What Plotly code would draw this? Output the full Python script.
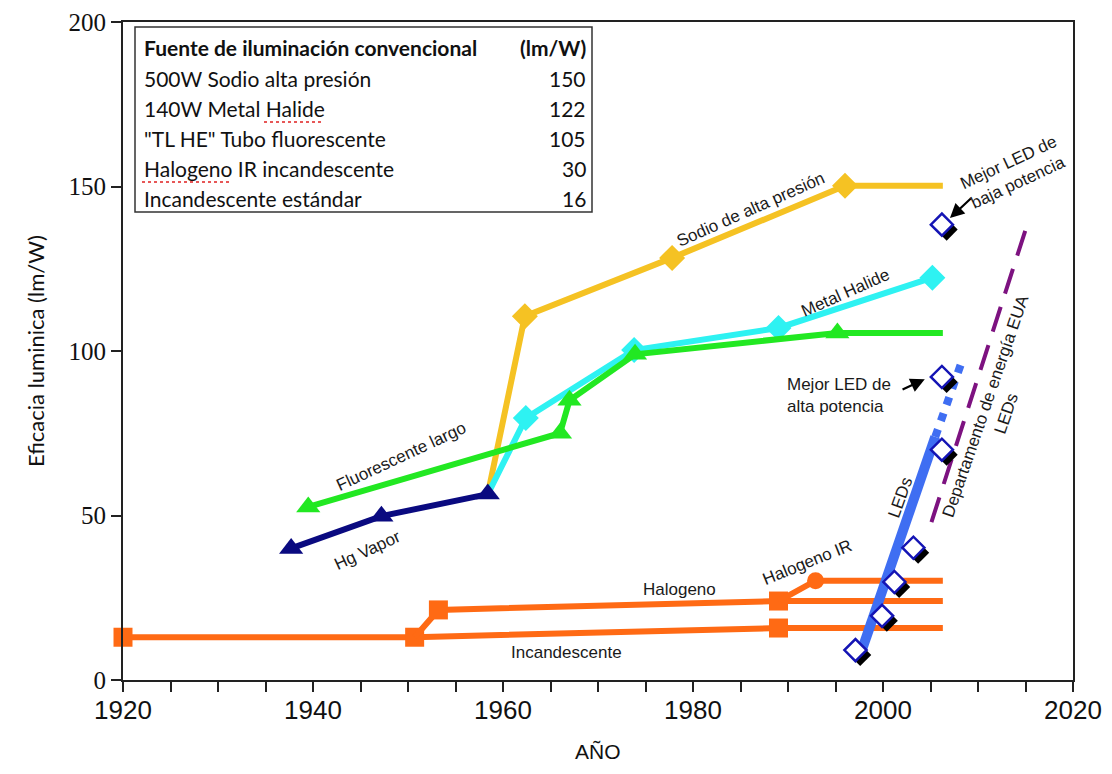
import plotly.graph_objects as go

# ---------------- data ----------------
hg_x = [1937.7, 1947.2, 1958.4]
hg_y = [40.0, 49.8, 56.5]

sodio_x = [1958.4, 1962.3, 1977.8, 1996.0, 2006.3]
sodio_y = [56.5, 110.6, 128.3, 150.2, 150.2]
sodio_mk = [0, 1, 1, 1, 0]

mh_x = [1958.4, 1962.4, 1973.8, 1989.0, 2005.2]
mh_y = [56.5, 79.6, 100.3, 107.0, 122.3]
mh_mk = [0, 1, 1, 1, 1]

fl_x = [1939.5, 1966.0, 1967.0, 1973.9, 1995.2, 2006.3]
fl_y = [52.6, 75.0, 85.0, 99.0, 105.5, 105.5]
fl_mk = [1, 1, 1, 1, 1, 0]

inc_x = [1920.0, 1950.7, 1989.0, 2006.3]
inc_y = [13.0, 13.0, 15.8, 15.8]
inc_mk = [1, 1, 1, 0]

hal_x = [1950.7, 1953.2, 1989.0, 2006.3]
hal_y = [13.0, 21.3, 24.0, 24.0]
hal_mk = [0, 1, 1, 0]

halir_x = [1989.0, 1992.9, 2006.3]
halir_y = [24.0, 30.2, 30.2]
halir_mk = [0, 1, 0]

led_x = [1997.1, 1999.9, 2001.2, 2003.2, 2006.2, 2006.2, 2006.2]
led_y = [9.1, 19.5, 29.8, 40.2, 70.0, 92.1, 138.4]

led_trend_x = [1997.4, 2005.5]
led_trend_y = [6.0, 73.9]
led_proj_x = [2005.5, 2008.2]
led_proj_y = [73.9, 96.0]

doe_x = [2005.1, 2015.0]
doe_y = [48.0, 136.8]

table_labels = ["500W Sodio alta presión", "140W Metal Halide", "\"TL HE\" Tubo fluorescente",
                "Halogeno IR incandescente", "Incandescente estándar"]
table_values = [150, 122, 105, 30, 16]
table_header = ["Fuente de iluminación convencional", "(lm/W)"]

x_ticks = [1920, 1940, 1960, 1980, 2000, 2020]
y_ticks = [0, 50, 100, 150, 200]

# ---------------- colours ----------------
C_ORANGE = "#FF6A14"
C_YELLOW = "#F5C223"
C_CYAN = "#2EF2F2"
C_GREEN = "#22E822"
C_NAVY = "#0A0A80"
C_BLUE = "#3F6EF2"
C_PURPLE = "#7D1280"

fig = go.Figure()

def series(x, y, color, symbol, size, mk, width=6):
    sizes = [size if m else 0 for m in mk]
    fig.add_trace(go.Scatter(
        x=x, y=y, mode="lines+markers",
        line=dict(color=color, width=width),
        marker=dict(symbol=symbol, size=sizes, color=color, opacity=1, line=dict(width=0)),
        cliponaxis=False, showlegend=False, hoverinfo="skip"))

# orange family
series(inc_x, inc_y, C_ORANGE, "square", 19, inc_mk)
series(hal_x, hal_y, C_ORANGE, "square", 19, hal_mk)
series(halir_x, halir_y, C_ORANGE, "circle", 17, halir_mk)

# high intensity lamps
series(sodio_x, sodio_y, C_YELLOW, "diamond", 20, sodio_mk)
series(mh_x, mh_y, C_CYAN, "diamond", 20, mh_mk)
series(fl_x, fl_y, C_GREEN, "triangle-up", 21, fl_mk)
series(hg_x, hg_y, C_NAVY, "triangle-up", 21, [1, 1, 1])

# DOE target
fig.add_trace(go.Scatter(x=doe_x, y=doe_y, mode="lines",
                         line=dict(color=C_PURPLE, width=4, dash="26px,14px"),
                         showlegend=False, hoverinfo="skip"))
# LED trend
fig.add_trace(go.Scatter(x=led_trend_x, y=led_trend_y, mode="lines",
                         line=dict(color=C_BLUE, width=10),
                         showlegend=False, hoverinfo="skip"))
fig.add_trace(go.Scatter(x=led_proj_x, y=led_proj_y, mode="lines",
                         line=dict(color=C_BLUE, width=8, dash="8px,9px"),
                         showlegend=False, hoverinfo="skip"))
# LED points: shadow + open diamond
fig.add_trace(go.Scatter(x=[v + 0.5 for v in led_x], y=[v - 1.5 for v in led_y], mode="markers",
                         marker=dict(symbol="diamond", size=17, color="#000000", opacity=1),
                         showlegend=False, hoverinfo="skip"))
fig.add_trace(go.Scatter(x=led_x, y=led_y, mode="markers",
                         marker=dict(symbol="diamond", size=17, color="white", opacity=1,
                                     line=dict(color="#1414B4", width=2.5)),
                         showlegend=False, hoverinfo="skip"))

# ---------------- annotations ----------------
LF = dict(family="Liberation Sans, Arial, sans-serif", size=17, color="#1a1a1a")
ann = []
def lab(text, x, y, angle=0, xanchor="center", align="center"):
    ann.append(dict(text=text, x=x, y=y, xref="x", yref="y", showarrow=False,
                    textangle=angle, font=LF, xanchor=xanchor, yanchor="middle", align=align))

lab("Sodio de alta presión", 1986.1, 142.9, -24)
lab("Metal Halide", 1996.1, 117.9, -24)
lab("Fluorescente largo", 1949.3, 67.8, -25)
lab("Hg Vapor", 1945.7, 39.4, -25)
lab("Halogeno", 1978.6, 27.4)
lab("Incandescente", 1966.7, 8.5)
lab("Halogeno IR", 1992.0, 35.8, -22)
lab("LEDs", 2001.8, 55.6, -70)
lab("Departamento de energía EUA<br>LEDs", 2011.9, 82.2, -71)
lab("Mejor LED de<br>baja potencia", 2013.7, 154.4, -25)
lab("Mejor LED de<br>alta potencia", 1989.7, 86.6, 0, xanchor="left", align="left")

# arrows
for hx, hy, tx, ty in [(2007.05, 140.4, 2009.4, 146.8), (2004.4, 91.4, 2001.9, 88.1)]:
    ann.append(dict(x=hx, y=hy, ax=tx, ay=ty, xref="x", yref="y", axref="x", ayref="y",
                    text="", showarrow=True, arrowhead=2, arrowsize=1.3, arrowwidth=2.2,
                    arrowcolor="black", standoff=0))

# table (positions in page pixels -> paper fractions)
TF = dict(family="Lato, Carlito, Calibri, sans-serif", size=21, color="#111111")
def px_x(px):
    return (px - 123) / 950.0
def px_y(py):
    return (680 - py) / 658.0

row_y = [48, 78, 108, 138, 168, 198]
def tcell(text, px, py, xanchor):
    ann.append(dict(text=text, x=px_x(px), y=px_y(py), xref="paper", yref="paper",
                    xanchor=xanchor, yanchor="middle", showarrow=False, font=TF))

tcell("<b>" + table_header[0] + "</b>", 142, row_y[0], "left")
tcell("<b>" + table_header[1] + "</b>", 588, row_y[0], "right")
for i, (lbl, val) in enumerate(zip(table_labels, table_values)):
    tcell(lbl, 142, row_y[i + 1], "left")
    tcell(str(val), 588, row_y[i + 1], "right")

# axis titles
ann.append(dict(text="Eficacia luminica (lm/W)", x=px_x(35), y=0.5, xref="paper", yref="paper",
                textangle=-90, showarrow=False, xanchor="center", yanchor="middle",
                font=dict(family="Lato, Carlito, sans-serif", size=22, color="#111")))
ann.append(dict(text="AÑO", x=0.5, y=px_y(751), xref="paper", yref="paper", showarrow=False,
                xanchor="center", yanchor="middle",
                font=dict(family="Liberation Sans, Arial", size=21, color="#111")))

shapes = [dict(type="rect", xref="paper", yref="paper", x0=px_x(135), x1=px_x(592),
               y0=px_y(212), y1=px_y(27), line=dict(color="#333", width=1.5), fillcolor="white",
               layer="below")]
for x0, x1, yy in [(264, 324, 122), (142, 232, 182)]:
    shapes.append(dict(type="line", xref="paper", yref="paper", x0=px_x(x0), x1=px_x(x1),
                       y0=px_y(yy), y1=px_y(yy), line=dict(color="#E02020", width=1.5, dash="dot")))

fig.update_layout(
    width=1096, height=758,
    margin=dict(l=115, r=31, t=14, b=86, autoexpand=False),
    plot_bgcolor="white", paper_bgcolor="white",
    annotations=ann, shapes=shapes,
    xaxis=dict(range=[1920, 2020], tickvals=x_ticks, ticks="outside", ticklen=10, tickwidth=1.5,
               tickcolor="#222", showline=True, linecolor="#222", linewidth=2, mirror=True,
               showgrid=False, zeroline=False, ticklabelstandoff=-4, automargin=False,
               minor=dict(dtick=5, tick0=1920, ticks="outside", ticklen=10, tickwidth=1.5, tickcolor="#222"),
               tickfont=dict(family="Liberation Sans, Arial", size=26, color="#111")),
    yaxis=dict(range=[0, 200], tickvals=y_ticks, ticks="outside", ticklen=10, tickwidth=1.5,
               tickcolor="#222", showline=True, linecolor="#222", linewidth=2, mirror=True,
               showgrid=False, zeroline=False, automargin=False,
               tickfont=dict(family="Liberation Serif, Times New Roman, serif", size=25, color="#111")),
)

fig.write_html("out.html")
